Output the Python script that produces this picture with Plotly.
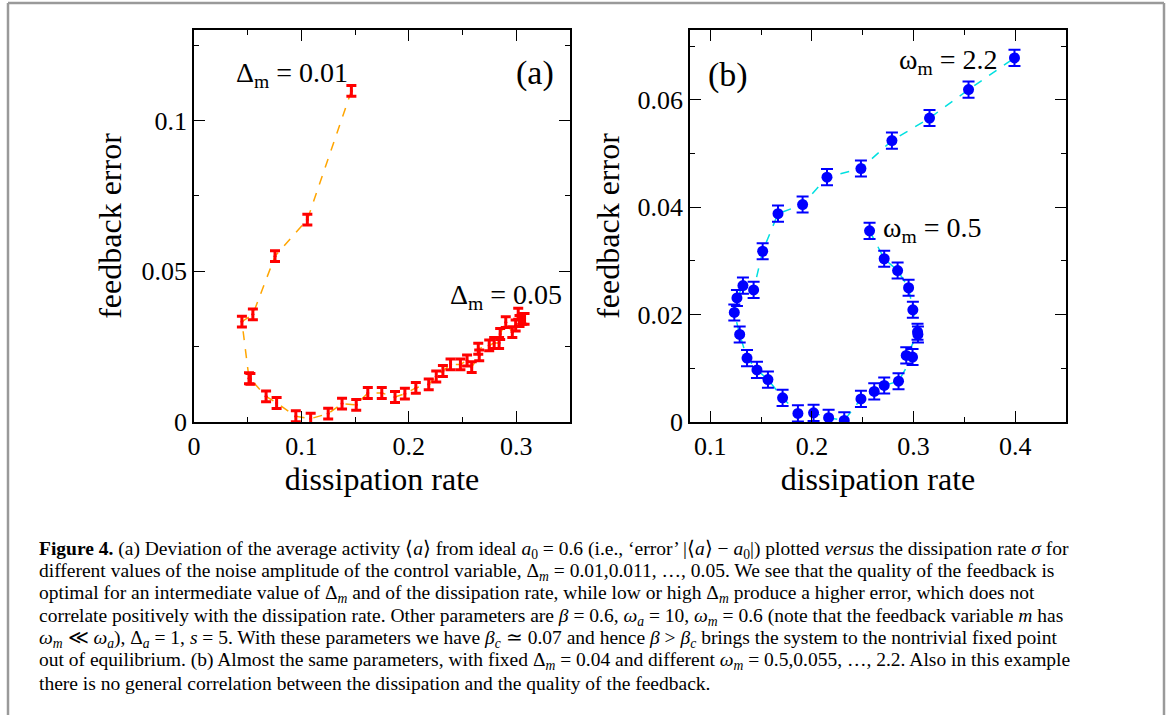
import plotly.graph_objects as go

W, H = 1170, 715
SERIF = "Liberation Serif, Times New Roman, serif"

# ---- panel (a): error vs dissipation for Delta_m = 0.01 ... 0.05 ----
a_sigma = [0.1465, 0.1055, 0.0754, 0.0548, 0.0446, 0.0512, 0.0525, 0.0671, 0.0769,
           0.0948, 0.1086, 0.1249, 0.1378, 0.1510, 0.1618, 0.1748, 0.1871, 0.1963,
           0.2065, 0.2185, 0.2255, 0.2317, 0.2388, 0.2480, 0.2542, 0.2585, 0.2655,
           0.2646, 0.2748, 0.2794, 0.2840, 0.2850, 0.2902, 0.2963, 0.2994, 0.3018,
           0.3055, 0.3077, 0.3030]
a_error = [0.1098, 0.0671, 0.0550, 0.0357, 0.0333, 0.0145, 0.0143, 0.0085, 0.0063,
           0.0019, 0.0011, 0.0028, 0.0061, 0.0057, 0.0096, 0.0096, 0.0083, 0.0094,
           0.0113, 0.0125, 0.0151, 0.0169, 0.0191, 0.0191, 0.0204, 0.0182, 0.0221,
           0.0243, 0.0254, 0.0262, 0.0262, 0.0292, 0.0331, 0.0298, 0.0320, 0.0359,
           0.0342, 0.0342, 0.0335]
a_unc = [0.0018] * len(a_sigma)

# ---- panel (b): error vs dissipation for omega_m = 0.5 ... 2.2 ----
b_sigma = [0.2567, 0.2711, 0.2843, 0.2951, 0.2993, 0.3039, 0.3043, 0.2928, 0.2990,
           0.2852, 0.2711, 0.2613, 0.2482, 0.2318, 0.2164, 0.2016, 0.1862, 0.1711,
           0.1567, 0.1459, 0.1361, 0.1289, 0.1236, 0.1262, 0.1321, 0.1426, 0.1515,
           0.1666, 0.1908, 0.2148, 0.2482, 0.2787, 0.3157, 0.3541, 0.3993]
b_error = [0.0356, 0.0304, 0.0282, 0.0250, 0.0209, 0.0168, 0.0163, 0.0124, 0.0121,
           0.0076, 0.0068, 0.0057, 0.0043, 0.0003, 0.0008, 0.0017, 0.0016, 0.0045,
           0.0079, 0.0097, 0.0119, 0.0163, 0.0204, 0.0231, 0.0254, 0.0246, 0.0318,
           0.0388, 0.0405, 0.0456, 0.0472, 0.0524, 0.0566, 0.0619, 0.0678]
b_unc = [0.0015] * len(b_sigma)

caption_lines = [
    "<b>Figure 4.</b> (a) Deviation of the average activity ⟨<i>a</i>⟩ from ideal <i>a</i><sub>0</sub> = 0.6 "
    "(i.e., ‘error’ |⟨<i>a</i>⟩ − <i>a</i><sub>0</sub>|) plotted <i>versus</i> the dissipation rate <i>σ</i> for",
    "different values of the noise amplitude of the control variable, Δ<sub><i>m</i></sub> = 0.01,0.011, …, 0.05. "
    "We see that the quality of the feedback is",
    "optimal for an intermediate value of Δ<sub><i>m</i></sub> and of the dissipation rate, while low or high "
    "Δ<sub><i>m</i></sub> produce a higher error, which does not",
    "correlate positively with the dissipation rate. Other parameters are <i>β</i> = 0.6, <i>ω</i><sub><i>a</i></sub> = 10, "
    "<i>ω</i><sub><i>m</i></sub> = 0.6 (note that the feedback variable <i>m</i> has",
    "<i>ω</i><sub><i>m</i></sub> ≪ <i>ω</i><sub><i>a</i></sub>), Δ<sub><i>a</i></sub> = 1, <i>s</i> = 5. With these parameters "
    "we have <i>β</i><sub><i>c</i></sub> ≃ 0.07 and hence <i>β</i> > <i>β</i><sub><i>c</i></sub> brings the system to the nontrivial fixed point",
    "out of equilibrium. (b) Almost the same parameters, with fixed Δ<sub><i>m</i></sub> = 0.04 and different "
    "<i>ω</i><sub><i>m</i></sub> = 0.5,0.055, …, 2.2. Also in this example",
    "there is no general correlation between the dissipation and the quality of the feedback.",
]


def px(x):
    return x / W


def py(y):
    return 1 - y / H


fig = go.Figure()

fig.add_trace(go.Scatter(x=a_sigma, y=a_error, mode="lines",
                         line=dict(color="#ffa500", width=1.5, dash="dash"),
                         xaxis="x", yaxis="y", hoverinfo="skip"))
fig.add_trace(go.Scatter(x=a_sigma, y=a_error, mode="markers",
                         marker=dict(color="#ff0000", size=3),
                         error_y=dict(type="data", array=a_unc, color="#ff0000",
                                      thickness=3, width=5),
                         xaxis="x", yaxis="y"))

fig.add_trace(go.Scatter(x=b_sigma, y=b_error, mode="lines",
                         line=dict(color="#00e0e0", width=1.5, dash="dash"),
                         xaxis="x2", yaxis="y2", hoverinfo="skip"))
fig.add_trace(go.Scatter(x=b_sigma, y=b_error, mode="markers",
                         marker=dict(color="#0000ff", size=11),
                         error_y=dict(type="data", array=b_unc, color="#0000ff",
                                      thickness=2, width=6),
                         xaxis="x2", yaxis="y2"))

axis_common = dict(
    showline=True, linecolor="black", linewidth=1.5, mirror="allticks",
    ticks="inside", ticklen=11, tickwidth=1.2, tickcolor="black",
    showgrid=False, zeroline=False,
    tickfont=dict(family=SERIF, size=26, color="black"),
    title_font=dict(family=SERIF, size=32, color="black"),
    automargin=False,
)

fig.update_layout(
    width=W, height=H, margin=dict(l=0, r=0, t=0, b=0),
    paper_bgcolor="white", plot_bgcolor="white", showlegend=False,
    xaxis=dict(domain=[px(194), px(570)], range=[0, 0.35], dtick=0.1, tick0=0,
               minor=dict(ticks="inside", ticklen=5, dtick=0.05, tick0=0, tickcolor="black"),
               title=dict(text="dissipation rate", standoff=0), anchor="y", **axis_common),
    yaxis=dict(domain=[py(422), py(30)], range=[0, 0.13], dtick=0.05, tick0=0,
               minor=dict(ticks="inside", ticklen=5, dtick=0.025, tick0=0, tickcolor="black"),
               title=dict(text="feedback error", standoff=10), anchor="x", **axis_common),
    xaxis2=dict(domain=[px(690), px(1066)], range=[0.08, 0.45], dtick=0.1, tick0=0,
                minor=dict(ticks="inside", ticklen=5, dtick=0.05, tick0=0, tickcolor="black"),
                title=dict(text="dissipation rate", standoff=0), anchor="y2", **axis_common),
    yaxis2=dict(domain=[py(422), py(30)], range=[0, 0.073], dtick=0.02, tick0=0,
                minor=dict(ticks="inside", ticklen=5, dtick=0.01, tick0=0, tickcolor="black"),
                title=dict(text="feedback error", standoff=8), anchor="x2", **axis_common),
)

ann = []


def label(text, x, y, size, xanchor="left"):
    ann.append(dict(text=text, x=px(x), y=py(y), xref="paper", yref="paper",
                    xanchor=xanchor, yanchor="middle", showarrow=False,
                    font=dict(family=SERIF, size=size, color="black")))


label("Δ<sub>m</sub> = 0.01", 234, 74, 28)
label("(a)", 514, 73, 34)
label("Δ<sub>m</sub> = 0.05", 448, 296, 28)
label("(b)", 706, 75, 34)
label("ω<sub>m</sub> = 2.2", 897, 61, 28)
label("ω<sub>m</sub> = 0.5", 881, 229, 28)

for i, line in enumerate(caption_lines):
    ann.append(dict(text=line, x=px(37), y=py(550 + 22.2 * i), xref="paper", yref="paper",
                    xanchor="left", yanchor="middle", showarrow=False, align="left",
                    font=dict(family=SERIF, size=19.5, color="black")))

fig.update_layout(annotations=ann)

# outer figure frame (top, left, right edges)
frame = dict(type="line", xref="paper", yref="paper",
             line=dict(color="#9a9a9a", width=2.5))
fig.add_shape(x0=px(8), x1=px(1164), y0=py(3), y1=py(3), **frame)
fig.add_shape(x0=px(8), x1=px(8), y0=py(3), y1=0, **frame)
fig.add_shape(x0=px(1164), x1=px(1164), y0=py(3), y1=0, **frame)

fig.write_html("out.html")
